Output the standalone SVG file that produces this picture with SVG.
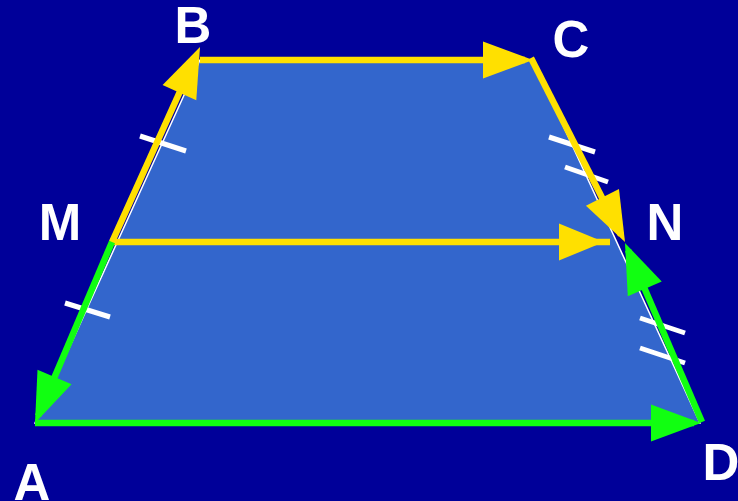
<svg xmlns="http://www.w3.org/2000/svg" xmlns:xlink="http://www.w3.org/1999/xlink" width="738" height="501" viewBox="0 0 738 501">
<style>
.lbl{font-family:"Liberation Sans",Arial,sans-serif;font-weight:bold;font-size:51px;fill:#ffffff;text-anchor:middle}
.y{stroke:#ffe000;stroke-width:6.5;fill:none;stroke-linecap:butt}
.g{stroke:#11ff11;stroke-width:6.5;fill:none;stroke-linecap:butt}
.tick{stroke:#ffffff;stroke-width:5;fill:none}
</style>
<defs>
<path id="ah" d="M0,0 L-50,-18.5 L-50,18.5 Z"/>
</defs>
<rect x="0" y="0" width="738" height="501" fill="#000099"/>
<g id="trapezoid">
<polygon points="35,423 200,60 533,60 700,423" fill="#3366cc" stroke="#ffffff" stroke-width="1.5"/>
</g>
<g id="ticks">
<line class="tick" x1="140" y1="136" x2="186" y2="151"/>
<line class="tick" x1="65" y1="303" x2="110" y2="317"/>
<line class="tick" x1="549" y1="137" x2="595" y2="152"/>
<line class="tick" x1="565" y1="167" x2="608" y2="182"/>
<line class="tick" x1="640" y1="318" x2="685" y2="333"/>
<line class="tick" x1="640" y1="348" x2="685" y2="363"/>
</g>
<g id="connectors">
<line class="y" x1="112" y1="242" x2="196" y2="56"/>
<line class="y" x1="200" y1="60" x2="525" y2="60"/>
<line class="y" x1="531" y1="58" x2="621" y2="235"/>
<line class="y" x1="110" y1="242" x2="610" y2="242"/>
<use xlink:href="#ah" fill="#ffe000" transform="translate(200,47) rotate(-65.7)"/>
<use xlink:href="#ah" fill="#ffe000" transform="translate(533,60)"/>
<use xlink:href="#ah" fill="#ffe000" transform="translate(625,242) rotate(63.2)"/>
<use xlink:href="#ah" fill="#ffe000" transform="translate(604,242) scale(0.9,1)"/>
<line class="g" x1="112" y1="242" x2="38" y2="416"/>
<line class="g" x1="35" y1="423" x2="694" y2="423"/>
<line class="g" x1="702" y1="422" x2="628" y2="250"/>
<use xlink:href="#ah" fill="#11ff11" transform="translate(35,423) rotate(113)"/>
<use xlink:href="#ah" fill="#11ff11" transform="translate(701,423)"/>
<use xlink:href="#ah" fill="#11ff11" transform="translate(625,243) rotate(-113.3)"/>
</g>
<g id="node-A"><text class="lbl" x="32" y="500">A</text></g>
<g id="node-B"><text class="lbl" x="193" y="43">B</text></g>
<g id="node-C"><text class="lbl" x="571" y="57">C</text></g>
<g id="node-D"><text class="lbl" x="721" y="480">D</text></g>
<g id="node-M"><text class="lbl" x="60" y="240">M</text></g>
<g id="node-N"><text class="lbl" x="665" y="240">N</text></g>
</svg>
